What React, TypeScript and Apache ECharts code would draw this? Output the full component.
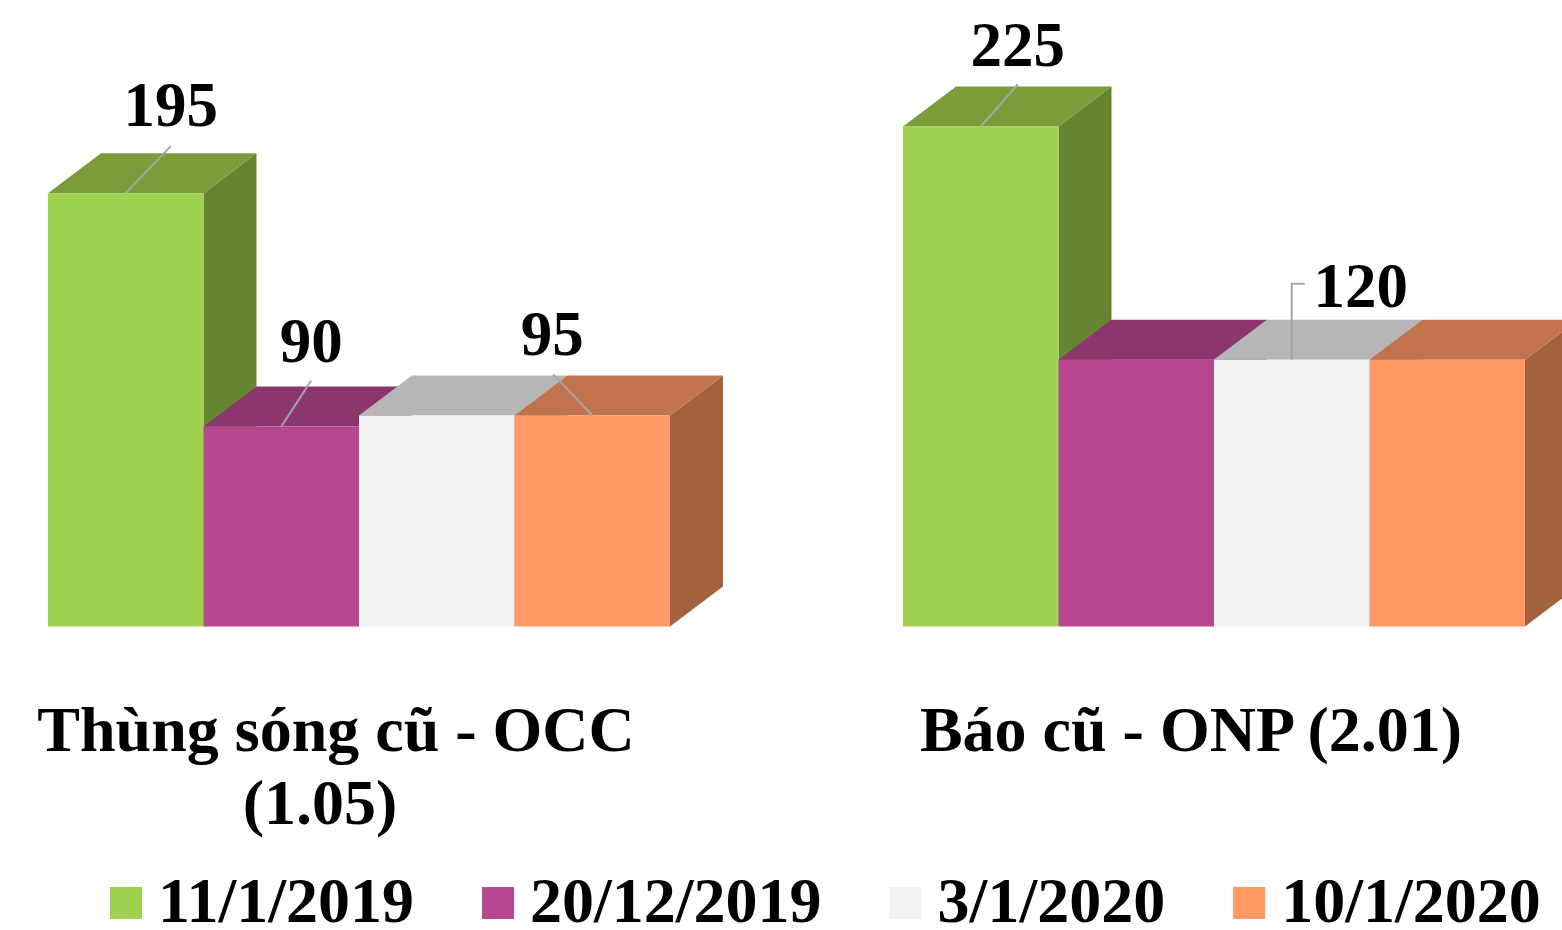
import React, { useEffect, useRef } from "react";
import * as echarts from "echarts";

const categories = ["Thùng sóng cũ - OCC\n(1.05)  ", "Báo cũ - ONP (2.01)"];
const seriesNames = ["11/1/2019", "20/12/2019", "3/1/2020", "10/1/2020"];
const values1 = [195, 225];
const values2 = [90, 120];
const values3 = [95, 120];
const values4 = [95, 120];
const seriesValues = [values1, values2, values3, values4];

const frontColors = ["#9FD24F", "#B74890", "#F2F2F2", "#FF9966"];
const topColors = ["#7A9C3B", "#8B366C", "#B6B6B6", "#C1734D"];
const sideColors = ["#668532", "#7A2F5F", "#A0A0A0", "#A2623D"];

const FONT = '"Liberation Serif", "Times New Roman", serif';
const DEPTH_X = 53;
const DEPTH_Y = 40;
const BAR_RATIO = 155.5 / 855;

// A 32x32 square that sits 6px lower than its symbol box's top, so it lies just below the text's centre.
const LEGEND_ICON = "path://M0 0H0.01V0.01H0ZM0 6H32V38H0Z";

// Which bars carry a value label, and where it sits relative to the bar's top-front centre.
type Callout = { s: number; c: number; line: number[][]; label: number[] };
const callouts: Callout[] = [
  { s: 0, c: 0, line: [[0, 0], [45, -47]], label: [45, -88] },
  { s: 1, c: 0, line: [[0, 0], [30, -46]], label: [30, -85] },
  { s: 3, c: 0, line: [[0, 0], [-39, -41]], label: [-40, -81] },
  { s: 0, c: 1, line: [[0, 0], [37, -42]], label: [37, -81] },
  { s: 2, c: 1, line: [[0, 0], [0, -76], [13, -76]], label: [69, -74] },
];

function makeRenderItem(s: number) {
  return (params: any, api: any) => {
    const c = api.value(0);
    const v = api.value(1);
    const [cx, yTop] = api.coord([c, v]);
    const [, yBase] = api.coord([c, 0]);
    const band = api.size([1, 0])[0];
    const w = band * BAR_RATIO;
    const x0 = cx - 2 * w + s * w;
    const x1 = x0 + w;
    const children: any[] = [
      {
        type: "polygon",
        shape: { points: [[x1, yTop], [x1 + DEPTH_X, yTop - DEPTH_Y], [x1 + DEPTH_X, yBase - DEPTH_Y], [x1, yBase]] },
        style: { fill: sideColors[s] },
      },
      {
        type: "polygon",
        shape: { points: [[x0, yTop], [x0 + DEPTH_X, yTop - DEPTH_Y], [x1 + DEPTH_X, yTop - DEPTH_Y], [x1, yTop]] },
        style: { fill: topColors[s] },
      },
      {
        type: "rect",
        shape: { x: x0, y: yTop, width: w, height: yBase - yTop },
        style: { fill: frontColors[s] },
      },
    ];
    const callout = callouts.find((k) => k.s === s && k.c === c);
    if (callout) {
      const mx = x0 + w / 2;
      children.push({
        type: "polyline",
        shape: { points: callout.line.map(([dx, dy]) => [mx + dx, yTop + dy]) },
        style: { stroke: "#A6A6A6", lineWidth: 2, fill: "none" },
      });
      children.push({
        type: "text",
        style: {
          text: String(v),
          x: mx + callout.label[0],
          y: yTop + callout.label[1],
          align: "center",
          verticalAlign: "middle",
          font: `bold 63px ${FONT}`,
          fill: "#000",
        },
      });
    }
    return { type: "group", children };
  };
}

export default function App() {
  const ref = useRef<HTMLDivElement>(null);
  useEffect(() => {
    const chart = echarts.init(ref.current!, null, { renderer: "svg" });
    chart.setOption({
      animation: false,
      backgroundColor: "#fff",
      grid: { left: -68.5, top: 70.94, width: 1710, height: 555.56, containLabel: false, outerBoundsMode: "none" },
      xAxis: {
        type: "category",
        data: categories,
        axisLine: { show: false },
        axisTick: { show: false },
        axisLabel: {
          interval: 0,
          margin: 66.5,
          padding: [0, 46, 0, 0],
          fontFamily: FONT,
          fontWeight: "bold",
          fontSize: 64,
          lineHeight: 73,
          color: "#000",
        },
      },
      yAxis: { type: "value", min: 0, max: 250, show: false, splitLine: { show: false } },
      legend: {
        left: 110,
        top: 868,
        padding: 0,
        icon: LEGEND_ICON,
        itemWidth: 32,
        itemHeight: 38,
        itemGap: 68,
        selectedMode: false,
        data: seriesNames,
        textStyle: {
          fontFamily: FONT,
          fontWeight: "bold",
          fontSize: 64,
          lineHeight: 56,
          color: "#000",
          padding: [0, 0, 0, 11],
        },
      },
      series: seriesNames.map((name, s) => ({
        type: "custom",
        name,
        clip: false,
        renderItem: makeRenderItem(s),
        encode: { x: 0, y: 1 },
        itemStyle: { color: frontColors[s] },
        data: seriesValues[s].map((v, c) => [c, v]),
      })),
    });
    return () => chart.dispose();
  }, []);
  return <div ref={ref} style={{ position: "fixed", left: 0, top: 0, width: 1562, height: 930 }} />;
}
